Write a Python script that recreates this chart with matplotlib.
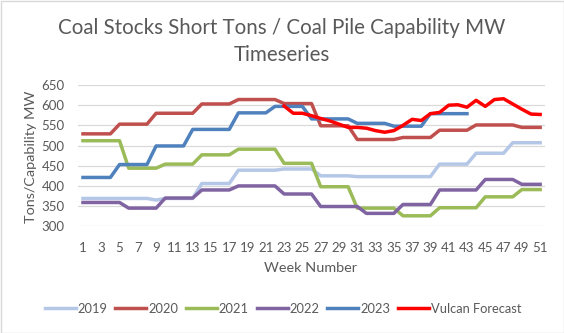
import numpy as np
import matplotlib.pyplot as plt
from matplotlib.patches import Rectangle

weeks = np.arange(1, 52)

y2019 = [369] * 8 + [365] + [369] * 4 + [406] * 4 + [439] * 5 + [442] * 4 + [425] * 4 + \
        [423] * 9 + [454] * 4 + [481] * 4 + [507] * 4
y2020 = [529] * 4 + [553] * 4 + [580] * 5 + [603] * 4 + [614] * 5 + [604] * 4 + [549] * 4 + \
        [515] * 5 + [520] * 4 + [538] * 4 + [551] * 5 + [545] * 3
y2021 = [512] * 5 + [444] * 4 + [454] * 4 + [477] * 4 + [491] * 5 + [456] * 4 + [398] * 4 + \
        [345] * 5 + [326] * 4 + [346] * 5 + [373] * 4 + [391] * 3
y2022 = [359] * 5 + [345] * 4 + [370] * 4 + [390] * 4 + [400] * 5 + [380] * 4 + [349] * 5 + \
        [332] * 4 + [354] * 4 + [390] * 5 + [416] * 4 + [404] * 3
y2023 = [421] * 4 + [453] * 4 + [499] * 4 + [540] * 5 + [581] * 4 + [597] * 4 + [566] * 5 + \
        [555] * 4 + [548] * 4 + [579] * 5 + [np.nan] * 8
vulcan = [np.nan] * 22 + [598, 580, 580, 574, 567, 561, 553, 545, 545, 543, 537, 533, 537,
                          550, 565, 562, 579, 582, 600, 601, 595, 612, 597, 614, 616, 603,
                          590, 578, 577]

series = [
    ("2019", y2019, "#B4C7E7"),
    ("2020", y2020, "#C0504D"),
    ("2021", y2021, "#9BBB59"),
    ("2022", y2022, "#8064A2"),
    ("2023", y2023, "#4F81BD"),
    ("Vulcan Forecast", vulcan, "#FF0000"),
]

txt = "#595959"
plt.rcParams['font.family'] = ['Lato', 'DejaVu Sans']

W, H = 564, 333
fig = plt.figure(figsize=(W / 100, H / 100), dpi=100)
ax = fig.add_axes([78.4 / W, 1 - 226.3 / H, (544.7 - 78.4) / W, (226.3 - 85) / H])

for name, vals, col in series:
    ax.plot(weeks, vals, color=col, lw=2.5, label=name, solid_joinstyle='round')

ax.set_xlim(0.5, 51.5)
ax.set_ylim(300, 650)
ax.set_yticks(np.arange(300, 651, 50))
ax.set_xticks(np.arange(1, 52, 2))
ax.grid(axis='y', color='#D9D9D9', lw=0.9)
ax.set_axisbelow(True)
for s in ax.spines.values():
    s.set_visible(False)
ax.tick_params(length=0, labelsize=9.5, labelcolor=txt)
ax.tick_params(axis='y', pad=10)
ax.tick_params(axis='x', pad=11)

fig.text(282 / W, 1 - 28 / H, "Coal Stocks Short Tons / Coal Pile Capability MW",
         ha='center', va='center', fontsize=14.8, color=txt)
fig.text(282 / W, 1 - 55 / H, "Timeseries", ha='center', va='center', fontsize=14.8, color=txt)
fig.text(31 / W, 1 - 157 / H, "Tons/Capability MW", rotation=90, ha='center', va='center',
         fontsize=10.4, color=txt)
fig.text(310 / W, 1 - 268 / H, "Week Number", ha='center', va='center', fontsize=10.4, color=txt)

fig.legend(loc='center', bbox_to_anchor=(283 / W, 1 - 309 / H), ncol=6, frameon=False,
           fontsize=9.3, labelcolor=txt, handlelength=2.4, handletextpad=0.15,
           columnspacing=0.6)

fig.patches.append(Rectangle((0.5 / W, 0.5 / H), 1 - 1 / W, 1 - 1 / H, transform=fig.transFigure,
                             fill=False, edgecolor='#D9D9D9', lw=1))

fig.savefig("out.png", dpi=100)
